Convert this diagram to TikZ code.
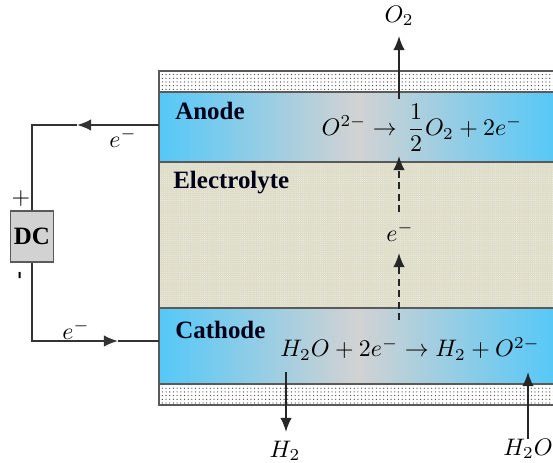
\documentclass[tikz,border=0pt]{standalone}
\usepackage{amsmath}
\usepackage{fontspec}
\setmainfont{Liberation Serif}
\usepackage{xcolor}
\usetikzlibrary{arrows.meta,patterns}
\definecolor{cellblue}{HTML}{55C8F8}
\definecolor{cellgray}{HTML}{D2D2D2}
\definecolor{cellsand}{HTML}{DFDDC9}
\definecolor{celledge}{HTML}{5A5A5A}
\pgfdeclarepatternformonly{finedots}{\pgfqpoint{-0.3pt}{-0.3pt}}{\pgfqpoint{0.3pt}{0.3pt}}{\pgfqpoint{1.2pt}{1.2pt}}{%
  \pgfpathcircle{\pgfqpoint{0pt}{0pt}}{0.22pt}\pgfusepath{fill}}
\pgfdeclarepatternformonly{coarsedots}{\pgfqpoint{-0.5pt}{-0.5pt}}{\pgfqpoint{2.4pt}{2.4pt}}{\pgfqpoint{2.1pt}{2.1pt}}{%
  \pgfpathcircle{\pgfqpoint{0pt}{0pt}}{0.36pt}\pgfusepath{fill}}
\tikzset{
  layer/.style={draw=celledge, line width=0.8pt, anchor=north west, minimum width=7.94cm, inner sep=0pt, outer sep=0pt},
  sealbar/.style={layer, minimum height=0.42cm, preaction={fill=white}, pattern=coarsedots, pattern color=black!75},
  electrode/.style={layer, left color=cellblue, right color=cellblue, middle color=cellgray},
  title/.style={anchor=west, font=\fontsize{14.2}{16}\selectfont\bfseries, text=black!90!blue, inner sep=0pt},
  eqn/.style={scale=1.36, inner sep=0pt},
  tip/.style={-{Latex[length=8pt,width=6.5pt]}},
  wire/.style={draw=black!80, line width=1pt},
  flow/.style={draw=black!85, line width=1pt, tip},
}
\begin{document}
\begin{tikzpicture}[x=0.02cm,y=-0.02cm]
  \useasboundingbox (0,0) rectangle (553,462);
  % cell layers
  \node[sealbar] (topseal) at (159,71) {};
  \node[electrode, minimum height=1.4cm] (anode) at (159,92) {};
  \node[layer, minimum height=2.92cm, preaction={fill=cellsand}, pattern=finedots, pattern color=white!70!cellsand] (electrolyte) at (159,162) {};
  \node[electrode, minimum height=1.52cm] (cathode) at (159,308) {};
  \node[sealbar] (botseal) at (159,384) {};
  % titles
  \node[title] (anodetxt) at (175,111) {Anode};
  \node[title] (electrolytetxt) at (173,183) {Electrolyte};
  \node[title] (cathodetxt) at (175,330) {Cathode};
  % reactions
  \node[eqn] (anodeeq) at (422,128) {$O^{2-}\rightarrow\,\dfrac{1}{2}O_2+2e^-$};
  \node[eqn] (cathodeeq) at (410,349) {$H_2O+2e^-\rightarrow H_2+O^{2-}$};
  % supply
  \node[draw=celledge, fill=cellgray, line width=0.8pt, minimum width=0.86cm, minimum height=1.02cm, inner sep=0pt, font=\fontsize{14.2}{16}\selectfont\bfseries] (dc) at (32,236.5) {DC};
  \node[eqn] (plus) at (21,199) {$+$};
  \node[eqn, rotate=90, font=\bfseries] (minus) at (22,276) {-};
  \coordinate (anodeport) at (159,125);
  \coordinate (cathodeport) at (159,341);
  \coordinate (anodetip) at (77,125);
  \coordinate (cathodetip) at (118,341);
  \draw[wire, tip] (anodeport) -- (anodetip);
  \draw[wire] (anodetip) -| (dc.north);
  \draw[wire, tip] (dc.south) |- (cathodetip);
  \draw[wire] (cathodetip) -- (cathodeport);
  \node[eqn] (etop) at (123,138) {$e^-$};
  \node[eqn] (ebot) at (76,330) {$e^-$};
  % gases and charge flow
  \node[eqn] (otwo) at (399,16) {$O_2$};
  \node[eqn] (htwo) at (285,451) {$H_2$};
  \node[eqn] (water) at (528,449) {$H_2O$};
  \node[eqn] (eflow) at (400,232) {$e^-$};
  \coordinate (otwofoot) at (399,99);
  \coordinate (otwotip) at (399,36);
  \coordinate (htwofoot) at (286,372);
  \coordinate (htwotip) at (286,432);
  \coordinate (watertip) at (528,372);
  \coordinate (eflowfoot) at (399,320);
  \coordinate (eflowmid) at (399,253);
  \coordinate (eflowbase) at (399,212);
  \coordinate (eflowtip) at (399,156);
  \draw[flow] (otwofoot) -- (otwotip);
  \draw[flow] (htwofoot) -- (htwotip);
  \draw[flow] (water.north) -- (watertip);
  \draw[flow, dash pattern=on 4pt off 2.5pt] (eflowfoot) -- (eflowmid);
  \draw[flow, dash pattern=on 4pt off 2.5pt] (eflowbase) -- (eflowtip);
\end{tikzpicture}
\end{document}
